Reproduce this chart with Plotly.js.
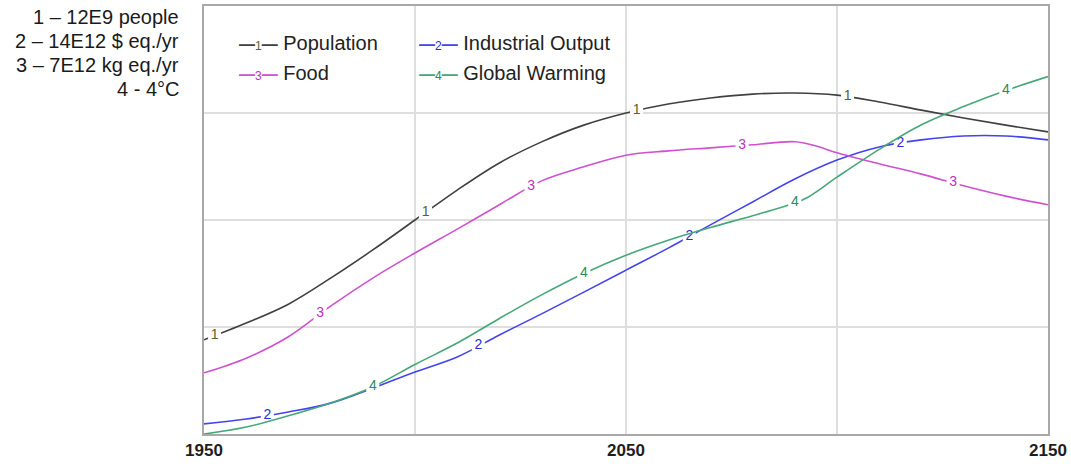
<!DOCTYPE html>
<html>
<head>
<meta charset="utf-8">
<script src="https://cdn.plot.ly/plotly-3.0.1.min.js"></script>
<style>html,body{margin:0;padding:0;background:#fff;}#chart{width:1071px;height:469px;}</style>
</head>
<body>
<div id="chart"></div>
<script>
// ---- Data ----
const popYears = [1950,1960,1970,1980,1990,2000,2010,2020,2030,2040,2050,2060,2070,2080,2090,2100,2110,2120,2130,2140,2150];
const population = [2.64,3.11,3.64,4.37,5.16,6.00,6.84,7.60,8.19,8.66,9.00,9.25,9.42,9.53,9.56,9.50,9.31,9.08,8.86,8.66,8.47]; // E9 people

const indYears = [1950,1960,1970,1980,1990,2000,2010,2020,2030,2040,2050,2060,2070,2080,2090,2100,2110,2120,2130,2140,2150];
const industrial = [0.33,0.49,0.72,1.01,1.50,2.03,2.52,3.24,3.93,4.64,5.36,6.08,6.84,7.59,8.34,8.96,9.39,9.62,9.75,9.75,9.62]; // E12 $ eq./yr

const foodYears = [1950,1960,1970,1980,1990,2000,2010,2020,2030,2040,2050,2060,2070,2080,2090,2095,2100,2110,2120,2130,2140,2150];
const food = [1.00,1.24,1.59,2.09,2.55,2.96,3.35,3.75,4.14,4.37,4.56,4.63,4.68,4.73,4.78,4.71,4.60,4.42,4.25,4.06,3.89,3.75]; // E12 kg eq./yr

const warmYears = [1950,1960,1970,1980,1990,2000,2010,2020,2030,2040,2050,2060,2070,2080,2090,2093,2100,2110,2120,2130,2140,2150];
const warming = [0.00,0.065,0.17,0.29,0.44,0.65,0.85,1.08,1.30,1.50,1.67,1.81,1.93,2.04,2.16,2.21,2.40,2.66,2.89,3.06,3.21,3.34]; // °C

const seriesNames = ["Population","Industrial Output","Food","Global Warming"];
const scaleLabels = ["1 \u2013 12E9 people","2 \u2013 14E12 $ eq./yr","3 \u2013 7E12 kg eq./yr","4 - 4\u00B0C"];
const axisMax = [12,14,7,4];
const labelStart = [1952.5,1965,1977.5,1990];
const labelStep = 50;
const tickVals = [1950,2000,2050,2100,2150];
const tickText = ["1950","","2050","","2150"];

// ---- Styles ----
const lineColors = ["#404040","#4444ee","#d050d0","#45a878"];
const numColors = ["#55632f","#2a2ae0","#c030c0","#2a8a5a"];

const xs = [popYears,indYears,foodYears,warmYears];
const ys = [population,industrial,food,warming];
const yaxes = ["y","y2","y3","y4"];

function interp(xArr, yArr, x){
  for(let i=0;i<xArr.length-1;i++){
    if(x>=xArr[i] && x<=xArr[i+1]){
      const t=(x-xArr[i])/(xArr[i+1]-xArr[i]);
      return yArr[i]+t*(yArr[i+1]-yArr[i]);
    }
  }
  return yArr[yArr.length-1];
}

const traces = [];
for(let k=0;k<4;k++){
  traces.push({
    x: xs[k], y: ys[k], yaxis: yaxes[k], type:"scatter", mode:"lines",
    line:{color:lineColors[k], width:1.6, shape:"spline", smoothing:1},
    name: seriesNames[k], showlegend:false, hoverinfo:"skip", cliponaxis:true
  });
}
for(let k=0;k<4;k++){
  const lx=[], ly=[], lt=[];
  for(let x=labelStart[k]; x<=2150; x+=labelStep){
    lx.push(x); ly.push(interp(xs[k],ys[k],x)); lt.push(String(k+1));
  }
  traces.push({
    x: lx, y: ly, yaxis: yaxes[k], type:"scatter", mode:"markers+text",
    text: lt, textposition:"middle center",
    textfont:{family:"Liberation Sans, Arial, sans-serif", size:14, color:numColors[k]},
    marker:{symbol:"square", size:13, color:"#ffffff", line:{width:0}},
    showlegend:false, hoverinfo:"skip", cliponaxis:false
  });
}

const annotations = [];
const scaleY = [0.974,0.918,0.862,0.806];
for(let k=0;k<4;k++){
  annotations.push({
    xref:"paper", yref:"paper", x:-0.027, y:scaleY[k], xanchor:"right", yanchor:"middle",
    text: scaleLabels[k], showarrow:false, align:"right",
    font:{family:"Liberation Sans, Arial, sans-serif", size:20, color:"#1a1a1a"}
  });
}
const legX = [0.039,0.2524,0.039,0.2524];
const legY = [0.9136,0.9136,0.8435,0.8435];
for(let k=0;k<4;k++){
  annotations.push({
    xref:"paper", yref:"paper", x:legX[k], y:legY[k], xanchor:"left", yanchor:"middle",
    showarrow:false, align:"left",
    text: '<span style="color:'+lineColors[k]+';font-size:16px"><b>\u2014</b></span>'+
          '<span style="color:'+numColors[k]+';font-size:12px">'+(k+1)+'</span>'+
          '<span style="color:'+lineColors[k]+';font-size:16px"><b>\u2014</b></span> '+seriesNames[k],
    font:{family:"Liberation Sans, Arial, sans-serif", size:20, color:"#222222"}
  });
}

const baseY = {showgrid:false, zeroline:false, showticklabels:false, ticks:"", fixedrange:true};
const layout = {
  width:1071, height:469,
  margin:{l:204, r:23, t:6, b:35},
  paper_bgcolor:"#ffffff", plot_bgcolor:"#ffffff",
  showlegend:false,
  xaxis:{range:[1950,2150], tickvals:tickVals, ticktext:tickText.map(t=>t?"<b>"+t+"</b>":""),
         showgrid:true, gridcolor:"#dedede", gridwidth:2, zeroline:false,
         showline:true, mirror:true, linecolor:"#a8a8a8", linewidth:2, ticks:"",
         tickfont:{family:"Liberation Sans, Arial, sans-serif", size:17, color:"#1e1e1e"}},
  yaxis:Object.assign({}, baseY, {range:[0,axisMax[0]], dtick:axisMax[0]/4, showgrid:true, gridcolor:"#dedede", gridwidth:2,
         showline:true, mirror:true, linecolor:"#a8a8a8", linewidth:2}),
  yaxis2:Object.assign({}, baseY, {range:[0,axisMax[1]], overlaying:"y"}),
  yaxis3:Object.assign({}, baseY, {range:[0,axisMax[2]], overlaying:"y"}),
  yaxis4:Object.assign({}, baseY, {range:[0,axisMax[3]], overlaying:"y"}),
  annotations: annotations,
  hovermode:false
};
Plotly.newPlot("chart", traces, layout, {staticPlot:true, displayModeBar:false});
</script>
</body>
</html>
